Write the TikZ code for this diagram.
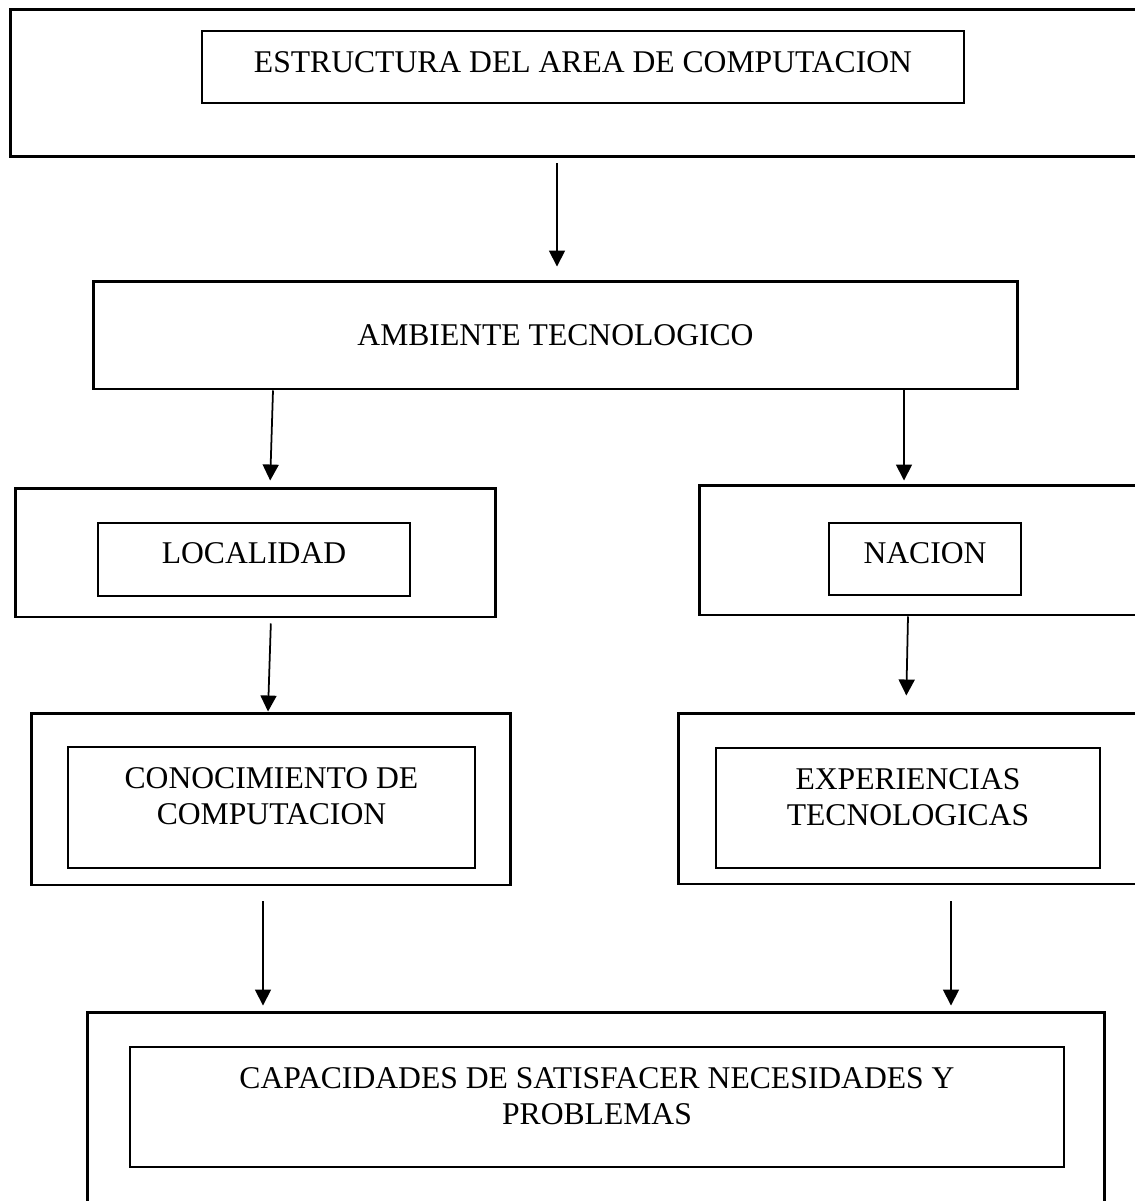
\documentclass[tikz,border=0pt]{standalone}
\usepackage{fontspec}
\setmainfont{Liberation Serif}
\usetikzlibrary{positioning,arrows.meta}
\tikzset{
  outerbox/.style={draw, line width=1.7pt, inner sep=0pt},
  innerbox/.style={draw, line width=1.1pt, inner sep=0pt, align=center, font=\fontsize{18}{20.5}\selectfont, text height=11.8pt},
  twolines/.style={text height=32.3pt, text depth=12.5pt},
  flow/.style={line width=1pt, -{Triangle[length=0.32cm,width=0.32cm]}},
}

\begin{document}
\begin{tikzpicture}[x=0.02cm, y=-0.02cm]
\useasboundingbox (0,0) rectangle (1134,1201);
% the nodes
\node [outerbox, minimum width=23cm, minimum height=2.96cm] (topOuter) at (585,83) {};
\node [innerbox, minimum width=15.24cm, minimum height=1.44cm, text depth=5.3pt] (estructura) at (583,67) {ESTRUCTURA DEL AREA DE COMPUTACION};
\node [outerbox, minimum width=18.5cm, minimum height=2.16cm, font=\fontsize{18}{20.5}\selectfont, text height=11.8pt, text depth=0pt] (ambiente) at (555.5,335) {AMBIENTE TECNOLOGICO};

\node [outerbox, minimum width=9.62cm, minimum height=2.58cm] (locOuter) at (255.5,552.5) {};
\node [innerbox, minimum width=6.24cm, minimum height=1.46cm, text depth=6.8pt] (localidad) at (254,559.5) {LOCALIDAD};
\node [outerbox, minimum width=9.22cm, minimum height=2.6cm] (nacOuter) at (929.5,550) {};
\node [innerbox, minimum width=3.84cm, minimum height=1.44cm, text depth=6.8pt] (nacion) at (925,559) {NACION};

\node [outerbox, minimum width=9.6cm, minimum height=3.44cm] (conOuter) at (271,799) {};
\node [innerbox, twolines, minimum width=8.14cm, minimum height=2.42cm] (conocimiento) at (271.5,807.5) {CONOCIMIENTO DE\\COMPUTACION};
\node [outerbox, minimum width=9.64cm, minimum height=3.42cm] (expOuter) at (919,798.5) {};
\node [innerbox, twolines, minimum width=7.68cm, minimum height=2.4cm] (experiencias) at (908,808) {EXPERIENCIAS\\TECNOLOGICAS};

\node [outerbox, minimum width=20.36cm, minimum height=4.36cm] (capOuter) at (596,1121) {};
\node [innerbox, twolines, minimum width=18.68cm, minimum height=2.4cm] (capacidades) at (597,1107) {CAPACIDADES DE SATISFACER NECESIDADES Y\\PROBLEMAS};
%drawings of vectors
\draw[flow, shorten <=0.1cm, shorten >=0.26cm] (557,0 |- topOuter.south) -- (557,0 |- ambiente.north);

\draw[flow, shorten >=0.12cm] (273,0 |- ambiente.south) -- (270,0 |- locOuter.north);
\draw[flow, shorten >=0.06cm] (904,0 |- ambiente.south) -- (904,0 |- nacOuter.north);

\draw[flow, shorten <=0.1cm] (271,0 |- locOuter.south) -- (268,0 |- conOuter.north);
\draw[flow, shorten >=0.32cm] (908,0 |- nacOuter.south) -- (906,0 |- expOuter.north);

\draw[flow, shorten <=0.3cm, shorten >=0.1cm] (263,0 |- conOuter.south) -- (263,0 |- capOuter.north);
\draw[flow, shorten <=0.32cm, shorten >=0.1cm] (951,0 |- expOuter.south) -- (951,0 |- capOuter.north);
\end{tikzpicture}
\end{document}
